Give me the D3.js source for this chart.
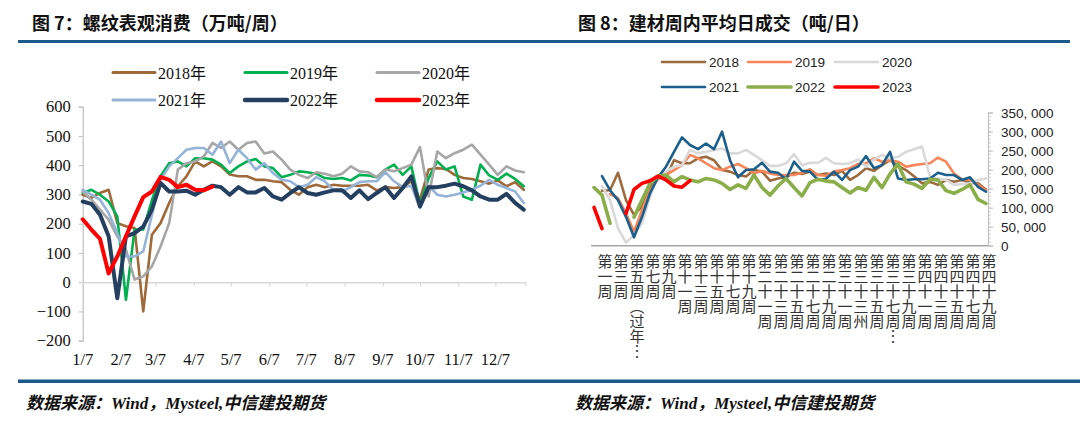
<!DOCTYPE html>
<html>
<head>
<meta charset="utf-8">
<script src="https://cdn.jsdelivr.net/npm/d3@7"></script>
<style>
  body { margin: 0; background: #fff; }
  svg { display: block; }
</style>
</head>
<body>
<div id="chart"></div>
<script>
// ---- 图7：螺纹表观消费（万吨/周），每周一个点，从 1/7 开始 ----
const rebarYears = ['2018年', '2019年', '2020年', '2021年', '2022年', '2023年'];
const rebar2018 = [299, 288, 305, 316, 202, 191, 185, -100, 162, 202, 271, 328, 362, 413, 396, 413, 396, 368, 362, 362,
  350, 350, 345, 342, 316, 299, 325, 333, 325, 333, 330, 330, 330, 333, 314, 325, 322, 325, 345, 282,
  385, 390, 387, 367, 356, 353, 345, 337, 348, 328, 342, 316];
const rebar2019 = [305, 316, 299, 276, 225, -60, 180, 180, 280, 362, 407, 413, 396, 424, 424, 419, 402, 373, 396, 413,
  421, 396, 390, 359, 367, 379, 376, 371, 356, 353, 356, 348, 367, 365, 359, 385, 402, 367, 396, 265,
  356, 413, 385, 396, 293, 282, 402, 365, 350, 371, 353, 328];
const rebar2020 = [310, 282, 248, 214, 157, 111, 9, 20, 54, 122, 202, 385, 407, 413, 430, 476, 459, 481, 453, 476,
  481, 440, 447, 419, 385, 367, 356, 376, 371, 362, 371, 396, 379, 376, 359, 385, 379, 390, 402, 462,
  293, 447, 424, 441, 453, 470, 436, 402, 367, 396, 382, 376];
const rebar2021 = [316, 299, 282, 236, 168, 88, 88, 105, 230, 350, 396, 424, 453, 459, 459, 436, 481, 407, 453, 424,
  385, 407, 373, 350, 345, 325, 333, 359, 345, 314, 310, 325, 342, 345, 345, 376, 345, 325, 330, 254,
  330, 299, 293, 299, 307, 316, 330, 350, 333, 322, 310, 271];
const rebar2022 = [276, 268, 231, 157, -55, 157, 168, 190, 248, 339, 310, 310, 313, 299, 316, 330, 325, 299, 325, 307,
  307, 322, 293, 282, 305, 325, 305, 299, 307, 314, 314, 288, 314, 284, 305, 325, 288, 322, 362, 259,
  325, 325, 330, 337, 328, 314, 293, 282, 282, 302, 271, 248];
const rebar2023 = [215, 180, 148, 30, 88, 157, 225, 291, 310, 360, 350, 325, 333, 316, 314, 327];
const rebarTickLabels = ['1/7', '2/7', '3/7', '4/7', '5/7', '6/7', '7/7', '8/7', '9/7', '10/7', '11/7', '12/7'];
const rebarYTicks = [-200, -100, 0, 100, 200, 300, 400, 500, 600];

// ---- 图8：建材周内平均日成交（吨/日），第1周到第50周 ----
const tradeYears = ['2018', '2019', '2020', '2021', '2022', '2023'];
const trade2018 = [null, 145000, 146000, 192000, 120000, 81000, 103000, 155000, 180000, 180000,
  225000, 217000, 217000, 230000, 234000, 225000, 199000, 195000, 186000, 182000,
  199000, 195000, 171000, 177000, 180000, 192000, 189000, 195000, 186000, 190000,
  186000, 197000, 173000, 186000, 204000, 197000, 212000, 225000, 210000, 199000,
  183000, 164000, 168000, 160000, 173000, 168000, 173000, 166000, 164000, 148000];
const trade2019 = [null, null, 136000, 125000, 85000, 37000, 94000, 146000, 175000, 186000,
  199000, 212000, 239000, 230000, 217000, 204000, 199000, 208000, 215000, 204000,
  190000, 197000, 190000, 186000, 186000, 186000, 192000, 201000, 186000, 184000,
  195000, 199000, 204000, 215000, 217000, 230000, 221000, 225000, 221000, 208000,
  212000, 215000, 217000, 232000, 221000, 190000, 175000, 173000, 160000, 146000];
const trade2020 = [null, 157000, 120000, 46000, 8000, 28000, 59000, 129000, 182000, 195000,
  208000, 212000, 252000, 243000, 247000, 252000, 256000, 243000, 243000, 252000,
  239000, 225000, 210000, 210000, 217000, 241000, 212000, 218000, 218000, 231000,
  217000, 215000, 217000, 227000, 208000, 227000, 239000, 230000, 234000, 247000,
  254000, 261000, 182000, 177000, 173000, 160000, 162000, 164000, 173000, 177000];
const trade2021 = [null, 183000, 146000, 120000, 76000, 22000, 76000, 138000, 180000, 208000,
  247000, 285000, 265000, 254000, 269000, 254000, 300000, 225000, 180000, 199000,
  201000, 218000, 195000, 192000, 175000, 221000, 197000, 195000, 173000, 176000,
  195000, 173000, 199000, 208000, 236000, 204000, 212000, 247000, 177000, 173000,
  175000, 175000, 177000, 192000, 186000, 186000, 173000, 180000, 155000, 142000];
const trade2022 = [153000, 133000, 59000, null, null, 75000, 120000, 164000, 183000, 186000,
  168000, 182000, 173000, 168000, 177000, 173000, 164000, 148000, 160000, 151000,
  186000, 153000, 133000, 157000, 177000, 153000, 131000, 166000, 175000, 170000,
  168000, 153000, 139000, 153000, 146000, 180000, 153000, 189000, 215000, 168000,
  162000, 151000, 175000, 173000, 145000, 138000, 148000, 160000, 122000, 111000];
const trade2023 = [101000, 45000, null, null, 85000, 148000, 164000, 171000, 183000, 173000,
  157000, 154000, 171000];
const tradeWeeks = d3.range(1, 51);
const tradeWeekLabels = ['第一周', '第三周', '第五周（过年…', '第七周', '第九周', '第十一周', '第十三周', '第十五周',
  '第十七周', '第十九周', '第二十一周', '第二十三周', '第二十五周', '第二十七周', '第二十九周', '第三十一周',
  '第三十三州', '第三十五周', '第三十七周…', '第三十九周', '第四十一周', '第四十三周', '第四十五周',
  '第四十七周', '第四十九周'];
const tradeYTicks = [0, 50000, 100000, 150000, 200000, 250000, 300000, 350000];

const W = 1080, H = 433;
const svg = d3.select('#chart').append('svg')
  .attr('width', W)
  .attr('height', H);

const serif = '"Liberation Serif", "Noto Sans CJK SC", serif';
const sans = '"Liberation Sans", Arial, "Noto Sans CJK SC", sans-serif';
const cjk = '"Noto Sans CJK SC", sans-serif';
const ruleColor = '#1B5A8A';

// titles and rules
svg.append('text').attr('x', 32).attr('y', 30)
  .attr('font-family', cjk).attr('font-weight', 'bold').attr('font-size', 18)
  .attr('fill', '#111').text('图 7：螺纹表观消费（万吨/周）');
svg.append('text').attr('x', 578).attr('y', 30)
  .attr('font-family', cjk).attr('font-weight', 'bold').attr('font-size', 18)
  .attr('fill', '#111').text('图 8：建材周内平均日成交（吨/日）');
svg.append('rect').attr('x', 18).attr('y', 40).attr('width', 1052).attr('height', 3).attr('fill', ruleColor);
svg.append('rect').attr('x', 18).attr('y', 379.5).attr('width', 1062).attr('height', 3.5).attr('fill', ruleColor);

// footers
[26, 575].forEach(x => {
  const t = svg.append('text').attr('x', x).attr('y', 409)
    .attr('font-size', 17).attr('font-weight', 'bold').attr('font-style', 'italic').attr('fill', '#111');
  t.append('tspan').attr('font-family', cjk).text('数据来源：');
  t.append('tspan').attr('font-family', serif).text('Wind');
  t.append('tspan').attr('font-family', cjk).text('，');
  t.append('tspan').attr('font-family', serif).text('Mysteel,');
  t.append('tspan').attr('font-family', cjk).text('中信建投期货');
});

// ================= 图7 =================
const rebarSeries = [rebar2018, rebar2019, rebar2020, rebar2021, rebar2022, rebar2023];
const rebarColors = ['#A0693A', '#00B050', '#A6A6A6', '#95B3D7', '#243F60', '#FF0000'];
const rebarWidths = [2.6, 2.6, 2.6, 2.6, 4, 4];

const firstWeek = new Date(2023, 0, 7);
const weekDates = d3.range(52).map(i => d3.timeDay.offset(firstWeek, 7 * i));
const monthDates = rebarTickLabels.map((s, i) => new Date(2023, i, 7));

const xL = d3.scaleTime()
  .domain([firstWeek, new Date(2023, 11, 31)])
  .range([82.7, 525]);
const yL = d3.scaleLinear().domain([-200, 600]).range([340.7, 106.7]);

const gL = svg.append('g');

// y axis
const yAxisL = gL.append('g').attr('transform', `translate(${xL.range()[0]},0)`)
  .call(d3.axisLeft(yL).tickValues(rebarYTicks).tickSize(4).tickPadding(8)
    .tickFormat(d => d < 0 ? '−' + Math.abs(d) : d));
yAxisL.select('.domain').attr('stroke', '#BFBFBF').attr('stroke-width', 1.2);
yAxisL.selectAll('.tick line').attr('stroke', '#BFBFBF');
yAxisL.selectAll('.tick text').attr('font-family', serif).attr('font-size', 16.5).attr('fill', '#111');

// x axis at zero
const xAxisL = gL.append('g').attr('transform', `translate(0,${yL(0)})`)
  .call(d3.axisBottom(xL).tickValues(monthDates).tickSize(4).tickFormat(() => ''));
xAxisL.select('.domain').attr('stroke', '#D9D9D9').attr('stroke-width', 1.5);
xAxisL.selectAll('.tick line').attr('stroke', '#D9D9D9').attr('stroke-width', 1.2);

gL.append('g').selectAll('text')
  .data(monthDates)
  .join('text')
  .attr('x', d => xL(d))
  .attr('y', 365)
  .attr('text-anchor', 'middle')
  .attr('font-family', serif).attr('font-size', 16.5).attr('fill', '#111')
  .text((d, i) => rebarTickLabels[i]);

const lineL = d3.line()
  .defined(d => d != null)
  .x((d, i) => xL(weekDates[i]))
  .y(d => yL(d));

gL.append('g').selectAll('path')
  .data(rebarSeries)
  .join('path')
  .attr('d', d => lineL(d))
  .attr('fill', 'none')
  .attr('stroke', (d, i) => rebarColors[i])
  .attr('stroke-width', (d, i) => rebarWidths[i])
  .attr('stroke-linejoin', 'round')
  .attr('stroke-linecap', 'round');

// legend
const legL = gL.append('g');
rebarYears.forEach((name, i) => {
  const col = i % 3, row = Math.floor(i / 3);
  const lx = [113, 245, 377][col];
  const ly = [72.5, 100][row];
  legL.append('line')
    .attr('x1', lx).attr('x2', lx + 42).attr('y1', ly).attr('y2', ly)
    .attr('stroke', rebarColors[i]).attr('stroke-width', rebarWidths[i] + 0.4)
    .attr('stroke-linecap', 'round');
  legL.append('text')
    .attr('x', lx + 45).attr('y', ly + 6)
    .attr('font-family', serif).attr('font-size', 16).attr('fill', '#111')
    .text(name);
});

// ================= 图8 =================
const tradeSeries = [trade2018, trade2019, trade2020, trade2021, trade2022, trade2023];
const tradeColors = ['#9C6A3D', '#F7875A', '#D9D9D9', '#1B5F8C', '#8AAE4A', '#FF0000'];
const tradeWidths = [2.6, 2.6, 2.6, 2.6, 3.6, 3.6];

const xR = d3.scalePoint().domain(tradeWeeks).range([594, 986]);
const yR = d3.scaleLinear().domain([0, 350000]).range([245.7, 112.7]);

const gR = svg.append('g');

// right value axis
const yAxisR = gR.append('g').attr('transform', 'translate(988,0)')
  .call(d3.axisRight(yR).tickValues(tradeYTicks).tickSize(5).tickPadding(8)
    .tickFormat(d => d3.format(',')(d).replace(',', ', ')));
yAxisR.select('.domain').attr('stroke', '#BFBFBF').attr('stroke-width', 1.2);
yAxisR.selectAll('.tick line').attr('stroke', '#BFBFBF');
yAxisR.selectAll('.tick text').attr('font-family', sans).attr('font-size', 13.5).attr('fill', '#222');

// minor ticks
gR.append('g').selectAll('line')
  .data(d3.range(0, 350001, 10000))
  .join('line')
  .attr('x1', 988).attr('x2', 991)
  .attr('y1', d => yR(d)).attr('y2', d => yR(d))
  .attr('stroke', '#C8C8C8').attr('stroke-width', 0.8);

// category axis
gR.append('line')
  .attr('x1', 591).attr('x2', 988)
  .attr('y1', yR(0)).attr('y2', yR(0))
  .attr('stroke', '#A6A6A6').attr('stroke-width', 1.5);

// vertical category labels, one per two weeks
const labelWeeks = tradeWeeks.filter(w => w % 2 === 1);
gR.append('g').selectAll('text')
  .data(labelWeeks)
  .join('text')
  .attr('x', d => xR(d) + 11)
  .attr('y', 254)
  .style('writing-mode', 'vertical-rl')
  .style('text-orientation', 'upright')
  .attr('font-family', cjk).attr('font-size', 15).attr('fill', '#333')
  .text((d, i) => tradeWeekLabels[i]);

const lineR = d3.line()
  .defined(d => d != null)
  .x((d, i) => xR(tradeWeeks[i]))
  .y(d => yR(d));

gR.append('g').selectAll('path')
  .data(tradeSeries)
  .join('path')
  .attr('d', d => lineR(d))
  .attr('fill', 'none')
  .attr('stroke', (d, i) => tradeColors[i])
  .attr('stroke-width', (d, i) => tradeWidths[i])
  .attr('stroke-linejoin', 'round')
  .attr('stroke-linecap', 'round');

// legend
const legR = gR.append('g');
tradeYears.forEach((name, i) => {
  const col = i % 3, row = Math.floor(i / 3);
  const lx = [662, 748, 835][col];
  const ly = [62, 87][row];
  legR.append('line')
    .attr('x1', lx).attr('x2', lx + 43).attr('y1', ly).attr('y2', ly)
    .attr('stroke', tradeColors[i]).attr('stroke-width', tradeWidths[i])
    .attr('stroke-linecap', 'round');
  legR.append('text')
    .attr('x', lx + 47).attr('y', ly + 5)
    .attr('font-family', sans).attr('font-size', 13.5).attr('fill', '#222')
    .text(name);
});
</script>
</body>
</html>
